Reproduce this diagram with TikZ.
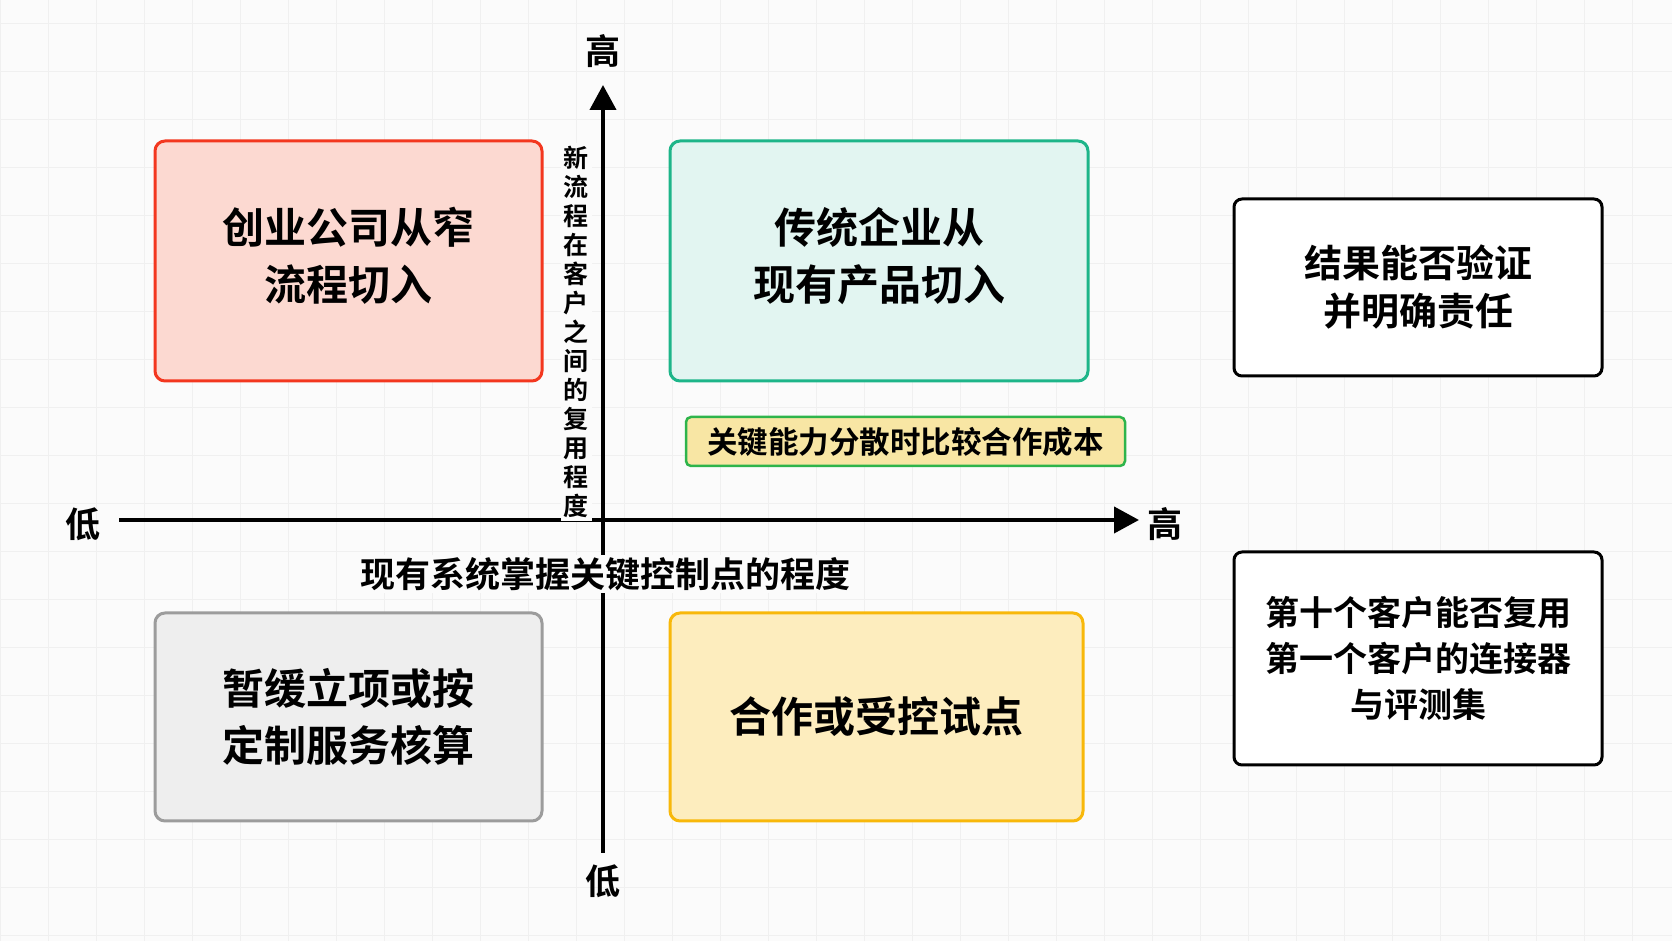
\documentclass[tikz,border=0pt]{standalone}
\usepackage{fontspec}
\newfontfamily\cjk{Noto Sans CJK SC}[BoldFont={Noto Sans CJK SC Bold}]
\usetikzlibrary{arrows.meta}

\definecolor{paper}{HTML}{FBFBFB}
\definecolor{gridline}{HTML}{F0F0F0}
\definecolor{redline}{HTML}{F3371F}
\definecolor{redfill}{HTML}{FCD9D1}
\definecolor{tealline}{HTML}{1DB589}
\definecolor{tealfill}{HTML}{E2F5F1}
\definecolor{grayline}{HTML}{9C9C9C}
\definecolor{grayfill}{HTML}{EEEEEE}
\definecolor{goldline}{HTML}{F8B80A}
\definecolor{goldfill}{HTML}{FDEDBE}
\definecolor{noteline}{HTML}{2EB44B}
\definecolor{notefill}{HTML}{F8E6A4}

\tikzset{
  quad/.style={draw, line width=3pt, rounded corners=10pt, inner sep=0pt, align=center,
    minimum height=240pt, font=\cjk\bfseries\fontsize{42}{57}\selectfont},
  side/.style={draw=black, fill=white, line width=3pt, rounded corners=8pt, inner sep=0pt,
    align=center, minimum width=368pt},
  axis/.style={line width=4pt, -{Triangle[length=25pt,width=26pt]}},
  ends/.style={font=\cjk\bfseries\fontsize{35}{40}\selectfont},
}

\begin{document}
\begin{tikzpicture}[x=1pt,y=1pt]
          \useasboundingbox[fill=paper] (0,0) rectangle (1672,941);
          \foreach \gx in {0,48,...,1672} \draw[gridline,line width=1pt] (\gx,0) -- (\gx,941);
          \foreach \gy in {5,53,...,941} \draw[gridline,line width=1pt] (0,\gy) -- (1672,\gy);

          % axes
          \coordinate (xstart) at (119,421);
          \coordinate (xend) at (1139,421);
          \coordinate (ystart) at (603,88);
          \coordinate (yend) at (603,856);
          \draw[axis] (xstart) -- (xend);
          \draw[axis] (ystart) -- (yend);

          \node[ends] (ytop) at (603,890) {高};
          \node[ends] (ybottom) at (603,60) {低};
          \node[ends] (xleft) at (83,417) {低};
          \node[ends] (xright) at (1165,417) {高};

          \node[fill=paper, inner sep=2pt, font=\cjk\bfseries\fontsize{35}{40}\selectfont] (xtitle) at (605,367) {现有系统掌握关键控制点的程度};
          \node[fill=paper, inner sep=3pt, align=center, font=\cjk\bfseries\fontsize{25}{29}\selectfont]
            (ytitle) at (576,609) {新\\流\\程\\在\\客\\户\\之\\间\\的\\复\\用\\程\\度};

          % quadrants
          \node[quad, draw=redline, fill=redfill, minimum width=387pt] (narrow) at (348.5,680) {创业公司从窄\\流程切入\\[-42pt]};
          \node[quad, draw=tealline, fill=tealfill, minimum width=418pt] (legacy) at (879,680) {传统企业从\\现有产品切入\\[-42pt]};
          \node[quad, draw=grayline, fill=grayfill, minimum width=387pt, minimum height=208pt] (pause) at (348.5,224) {暂缓立项或按\\定制服务核算};
          \node[quad, draw=goldline, fill=goldfill, minimum width=413pt, minimum height=208pt] (pilot) at (876.5,224) {合作或受控试点};

          \node[draw=noteline, fill=notefill, line width=2.5pt, rounded corners=5pt, minimum width=439pt, minimum height=49pt,
            inner sep=0pt, font=\cjk\bfseries\fontsize{30.5}{34}\selectfont] (cost) at (905.5,499.5) {关键能力分散时比较合作成本};

          % questions
          \node[side, minimum height=177pt, font=\cjk\bfseries\fontsize{38}{48}\selectfont] (verify) at (1418,653.5) {结果能否验证\\并明确责任};
          \node[side, minimum height=213pt, font=\cjk\bfseries\fontsize{34}{46}\selectfont] (reuse) at (1418,282.5) {第十个客户能否复用\\第一个客户的连接器\\与评测集};
        \end{tikzpicture}
\end{document}
